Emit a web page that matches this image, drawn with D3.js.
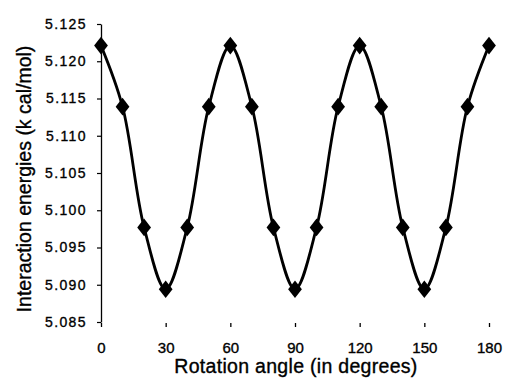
<!DOCTYPE html>
<html>
<head>
<meta charset="utf-8">
<script src="https://cdn.jsdelivr.net/npm/d3@7"></script>
<style>
  html, body { margin: 0; padding: 0; background: #fff; }
  svg { display: block; }
  text { font-family: "Liberation Sans", Arial, sans-serif; fill: #000; stroke: #000; stroke-width: 0.35px; }
</style>
</head>
<body>
<svg id="chart" width="505" height="381"></svg>
<script>
// Rotation angle (degrees) and interaction energy (kcal/mol)
const angles = [0, 10, 20, 30, 40, 50, 60, 70, 80, 90, 100, 110, 120, 130, 140, 150, 160, 170, 180];
const energies = [5.1221, 5.1139, 5.0977, 5.0894, 5.0977, 5.1139, 5.1221,
                  5.1139, 5.0977, 5.0894, 5.0977, 5.1139, 5.1221,
                  5.1139, 5.0977, 5.0894, 5.0977, 5.1139, 5.1221];
const xTicks = [0, 30, 60, 90, 120, 150, 180];
const yTicks = [5.085, 5.090, 5.095, 5.100, 5.105, 5.110, 5.115, 5.120, 5.125];
const xTitle = "Rotation angle (in degrees)";
const yTitle = "Interaction energies (k cal/mol)";

const svg = d3.select("#chart");
const x = d3.scaleLinear().domain([0, 180]).range([101, 489]);
const y = d3.scaleLinear().domain([5.085, 5.125]).range([322, 24]);

// Y axis with line and outward ticks
const yAxis = svg.append("g")
  .attr("transform", `translate(${x(0)},0)`)
  .call(d3.axisLeft(y).tickValues(yTicks).tickSize(4).tickSizeOuter(0)
    .tickFormat(d3.format(".3f")));
yAxis.select(".domain").attr("stroke", "#000").attr("stroke-width", 1.3);
yAxis.selectAll(".tick line").attr("stroke", "#000").attr("stroke-width", 1.2);
yAxis.selectAll(".tick text")
  .attr("x", -14)
  .style("font-size", "14px")
  .style("letter-spacing", "1.4px")
  .style("font-family", "'Liberation Sans', Arial, sans-serif");

// X axis: tick marks only, no baseline
const xAxis = svg.append("g")
  .attr("transform", `translate(0,${y(5.085)})`)
  .call(d3.axisBottom(x).tickValues(xTicks).tickSize(5).tickSizeOuter(0));
xAxis.select(".domain").remove();
xAxis.selectAll(".tick line").attr("stroke", "#000").attr("stroke-width", 1.3)
  .attr("y1", 1);
xAxis.selectAll(".tick text")
  .attr("y", 31)
  .attr("dy", "0")
  .style("font-size", "15px")
  .style("font-family", "'Liberation Sans', Arial, sans-serif");

// Smoothed energy curve
const line = d3.line()
  .x((d, i) => x(angles[i]))
  .y(d => y(d))
  .curve(d3.curveCatmullRom.alpha(0.5));
svg.append("path")
  .datum(energies)
  .attr("d", line)
  .attr("fill", "none")
  .attr("stroke", "#000")
  .attr("stroke-width", 2.8)
  .attr("stroke-linejoin", "round");

// Diamond markers
const diamond = d3.symbol().type(d3.symbolDiamond).size(90);
svg.append("g").selectAll("path")
  .data(energies)
  .join("path")
  .attr("d", diamond)
  .attr("transform", (d, i) => `translate(${x(angles[i])},${y(d)}) scale(1.35,1)`)
  .attr("fill", "#000");

// Axis titles
svg.append("text")
  .attr("x", 296)
  .attr("y", 373)
  .attr("text-anchor", "middle")
  .style("font-size", "19.5px")
  .style("letter-spacing", "0.3px")
  .text(xTitle);

svg.append("text")
  .attr("transform", `translate(31,${(30 + 328) / 2}) rotate(-90)`)
  .attr("text-anchor", "middle")
  .style("font-size", "19.5px")
  .text(yTitle);
</script>
</body>
</html>
